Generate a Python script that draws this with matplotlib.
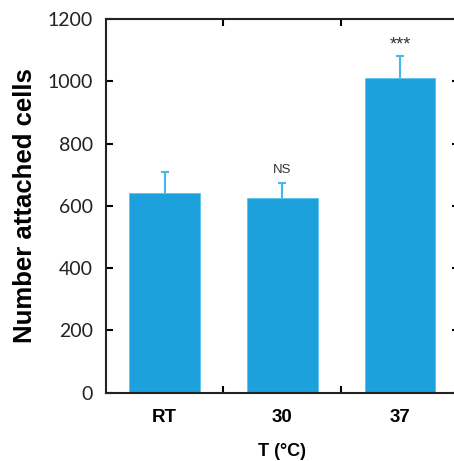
import matplotlib.pyplot as plt

# data
groups = ['RT', '30', '37']
cells = [642, 625, 1012]
cells_err = [67, 49, 69]
marks = ['', 'NS', '***']

mark_style = {'NS': (9.5, 22), '***': (13, 8)}  # fontsize, gap above cap
bar_color = '#1ca1dc'
err_color = '#45b8ea'

fig = plt.figure(figsize=(4.54, 4.61), dpi=100)
ax = fig.add_axes([0.2328, 0.1482, 0.778, 0.8106])

x = [1, 2, 3]
tops = [v + e for v, e in zip(cells, cells_err)]
# upper-only error bars: stem + cap
ax.vlines(x, cells, tops, color=err_color, linewidth=1.5, zorder=1)
ax.plot(x, tops, '_', color=err_color, ms=6, mew=1.5, zorder=1)
ax.bar(x, cells, width=0.6, color=bar_color, edgecolor='#5cc3ee', linewidth=0.6,
       zorder=2)

for xi, t, m in zip(x, tops, marks):
    if m:
        fs, gap = mark_style[m]
        ax.text(xi, t + gap, m, ha='center', va='bottom', fontsize=fs,
                color='#333333', family='Liberation Sans')

ax.set_xlim(0.5, 3.5)
ax.set_ylim(0, 1200)
ax.set_yticks(range(0, 1201, 200))
ax.set_xticks(x)
ax.set_xticklabels(groups, fontsize=13.5, fontweight='bold', family='Liberation Sans')
ax.set_xticks([1.5, 2.5], minor=True)
ax.tick_params(axis='x', which='major', length=0, pad=12)
ax.tick_params(axis='x', which='minor', direction='in', length=5, width=1.5,
               top=True, bottom=True)
ax.tick_params(axis='y', direction='in', length=5, width=1.5, right=True,
               labelsize=14, pad=9)
for lab in ax.get_yticklabels():
    lab.set_family('Lato')
    lab.set_color('#222222')

for s in ax.spines.values():
    s.set_linewidth(1.5)
    s.set_color('#222222')

ax.set_xlabel('T (°C)', fontsize=13, fontweight='bold', family='Liberation Sans',
              labelpad=12)
ax.set_ylabel('Number attached cells', fontsize=18.5, fontweight='bold',
              family='Liberation Sans', labelpad=8)

fig.savefig('out.png', dpi=100)
